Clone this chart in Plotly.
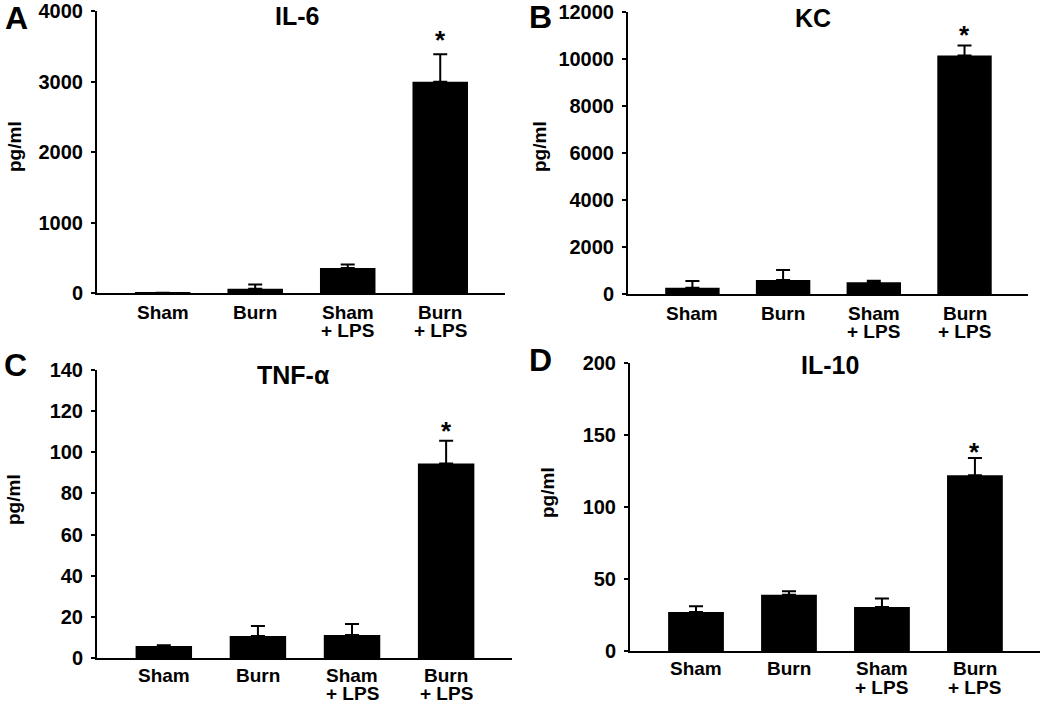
import plotly.graph_objects as go

# ---------------- data ----------------
categories = ["Sham", "Burn", "Sham + LPS", "Burn + LPS"]
label_line1 = ["Sham", "Burn", "Sham", "Burn"]
label_line2 = ["", "", "+ LPS", "+ LPS"]

il6_mean = [2, 60, 355, 2995]
il6_err = [0, 60, 50, 390]

kc_mean = [270, 600, 500, 10150]
kc_err = [280, 420, 60, 420]

tnf_mean = [5.8, 10.7, 11.2, 94.6]
tnf_err = [0.4, 4.8, 5.3, 11]

il10_mean = [27, 39, 30.5, 122]
il10_err = [4, 2.5, 6, 12]

significant = [False, False, False, True]

# ---------------- layout config ----------------
W, H = 1050, 704
FONT = "Liberation Sans, Arial, Helvetica, sans-serif"


def fx(px):
    return px / W


def fy(py):
    return 1 - py / H


panels = [
    dict(letter="A", title="IL-6", mean=il6_mean, err=il6_err, ymax=4000, dtick=1000,
         px=(97, 505, 11, 293), letter_xy=(16, 18), title_xy=(297, 16), ytitle_xy=(15, 147),
         star_shift=-3, lab_shift=(-19, -37)),
    dict(letter="B", title="KC", mean=kc_mean, err=kc_err, ymax=12000, dtick=2000,
         px=(628, 1028, 12, 294), letter_xy=(540, 17), title_xy=(813, 18), ytitle_xy=(540, 147),
         star_shift=-6, lab_shift=(-19, -37)),
    dict(letter="C", title="TNF-α", mean=tnf_mean, err=tnf_err, ymax=140, dtick=20,
         px=(97, 512, 370, 658), letter_xy=(15, 365), title_xy=(293, 375), ytitle_xy=(13, 500),
         star_shift=-7, lab_shift=(-17, -35)),
    dict(letter="D", title="IL-10", mean=il10_mean, err=il10_err, ymax=200, dtick=50,
         px=(630, 1040, 363, 651), letter_xy=(540, 360), title_xy=(830, 365), ytitle_xy=(547, 493),
         star_shift=-11, lab_shift=(-17, -36)),
]

fig = go.Figure()
annotations = []
layout = {}

for i, p in enumerate(panels):
    n = i + 1
    xa = "x" if n == 1 else f"x{n}"
    ya = "y" if n == 1 else f"y{n}"
    xkey = "xaxis" if n == 1 else f"xaxis{n}"
    ykey = "yaxis" if n == 1 else f"yaxis{n}"
    x0, x1, ytop, ybot = p["px"]

    fig.add_trace(go.Bar(
        x=categories, y=p["mean"], xaxis=xa, yaxis=ya,
        width=0.6, marker=dict(color="black", line=dict(width=0)),
        error_y=dict(type="data", array=p["err"], arrayminus=[0] * 4, symmetric=False,
                     color="black", thickness=2, width=7),
        showlegend=False, hoverinfo="x+y",
    ))

    layout[xkey] = dict(
        domain=[fx(x0), fx(x1)], anchor=ya, range=[-0.71, 3.7],
        categoryorder="array", categoryarray=categories, automargin=False,
        showline=True, linecolor="black", linewidth=2, ticks="",
        showticklabels=False, showgrid=False, zeroline=False, fixedrange=True,
    )
    layout[ykey] = dict(
        domain=[fy(ybot), fy(ytop)], anchor=xa, range=[0, p["ymax"]],
        dtick=p["dtick"], tick0=0, tickformat="d", automargin=False,
        showline=True, linecolor="black", linewidth=2,
        ticks="outside", ticklen=4, tickwidth=1.5, tickcolor="black",
        ticklabelstandoff=4,
        tickfont=dict(family=FONT, size=20, color="black", weight="bold"),
        showgrid=False, zeroline=False, fixedrange=True,
    )

    # x category labels (two lines, tight spacing)
    s1, s2 = p["lab_shift"]
    for c, l1, l2 in zip(categories, label_line1, label_line2):
        annotations.append(dict(
            x=c, y=0, xref=xa, yref=f"{ya} domain", text=l1, showarrow=False,
            xanchor="center", yanchor="middle", yshift=s1,
            font=dict(family=FONT, size=19, color="black", weight="bold")))
        if l2:
            annotations.append(dict(
                x=c, y=0, xref=xa, yref=f"{ya} domain", text=l2, showarrow=False,
                xanchor="center", yanchor="middle", yshift=s2,
                font=dict(family=FONT, size=19, color="black", weight="bold")))

    # significance asterisks
    for c, m, e, s in zip(categories, p["mean"], p["err"], significant):
        if s:
            annotations.append(dict(
                x=c, y=m + e, xref=xa, yref=ya, text="*", showarrow=False,
                xanchor="center", yanchor="bottom", yshift=p["star_shift"],
                font=dict(family=FONT, size=26, color="black", weight="bold")))

    # panel letter
    lx, ly = p["letter_xy"]
    annotations.append(dict(
        x=fx(lx), y=fy(ly), xref="paper", yref="paper", text=p["letter"],
        showarrow=False, xanchor="center", yanchor="middle",
        font=dict(family=FONT, size=32, color="black", weight="bold")))

    # panel title
    tx, ty = p["title_xy"]
    annotations.append(dict(
        x=fx(tx), y=fy(ty), xref="paper", yref="paper", text=p["title"],
        showarrow=False, xanchor="center", yanchor="middle",
        font=dict(family=FONT, size=25, color="black", weight="bold")))

    # y-axis title
    yx, yy = p["ytitle_xy"]
    annotations.append(dict(
        x=fx(yx), y=fy(yy), xref="paper", yref="paper", text="pg/ml",
        showarrow=False, xanchor="center", yanchor="middle", textangle=-90,
        font=dict(family=FONT, size=19, color="black", weight="bold")))

fig.update_layout(
    width=W, height=H, margin=dict(l=0, r=0, t=0, b=0, autoexpand=False),
    paper_bgcolor="white", plot_bgcolor="white",
    annotations=annotations, **layout,
)

fig.write_html(
    "out.html",
    config={"displayModeBar": False, "staticPlot": False},
    post_script="document.body.style.margin='0';document.body.style.padding='0';"
                "document.body.style.overflow='hidden';",
)
